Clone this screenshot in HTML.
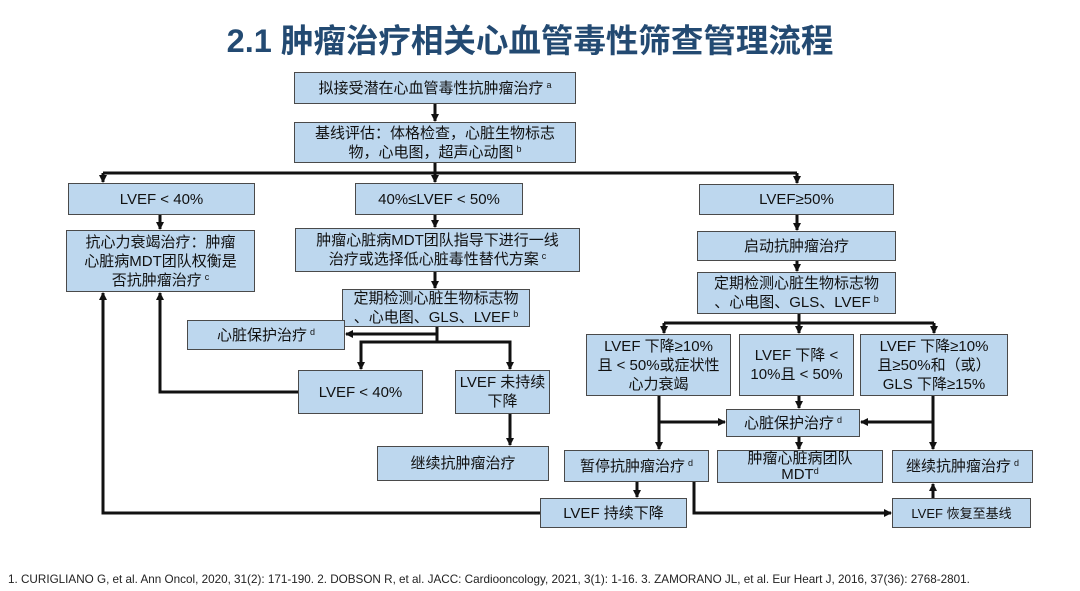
<!DOCTYPE html>
<html><head><meta charset="utf-8"><style>
body{margin:0;width:1080px;height:591px;background:#fff;position:relative;overflow:hidden;font-family:"Liberation Sans","Noto Sans CJK SC",sans-serif;}
.t{position:absolute;left:0;width:1060px;top:15px;text-align:center;font-size:32.5px;font-weight:bold;color:#234a72;}
.b{position:absolute;box-sizing:border-box;background:#bdd7ee;border:1.5px solid #4a4a4a;display:flex;align-items:center;justify-content:center;text-align:center;font-size:15px;line-height:19px;color:#111}
sup{font-size:9px;vertical-align:5px;margin-left:3px;line-height:0}
.f{position:absolute;left:8px;top:573px;font-size:11.7px;color:#222;white-space:nowrap}
svg{position:absolute;left:0;top:0}
</style></head><body>
<div class="t">2.1 肿瘤治疗相关心血管毒性筛查管理流程</div>
<svg width="1080" height="591">
<defs><marker id="a" markerWidth="8" markerHeight="8" refX="7" refY="4" orient="auto" markerUnits="userSpaceOnUse"><path d="M0,0 L8,4 L0,8 z" fill="#111"/></marker></defs>
<g stroke="#111" stroke-width="3" fill="none">
<line x1="435" y1="104" x2="435" y2="121" marker-end="url(#a)"/>
<line x1="435" y1="163" x2="435" y2="173"/>
<line x1="103" y1="173" x2="797" y2="173"/>
<line x1="103" y1="173" x2="103" y2="182" marker-end="url(#a)"/>
<line x1="435" y1="173" x2="435" y2="182" marker-end="url(#a)"/>
<line x1="797" y1="173" x2="797" y2="183" marker-end="url(#a)"/>
<line x1="160" y1="215" x2="160" y2="229" marker-end="url(#a)"/>
<line x1="435" y1="215" x2="435" y2="227" marker-end="url(#a)"/>
<line x1="435" y1="272" x2="435" y2="288" marker-end="url(#a)"/>
<line x1="437" y1="327" x2="437" y2="342"/>
<line x1="437" y1="334" x2="346" y2="334" marker-end="url(#a)"/>
<polyline points="361,369 361,342 510,342 510,369" marker-end="url(#a)"/>
<line x1="361" y1="342" x2="361" y2="369" marker-end="url(#a)"/>
<line x1="510" y1="414" x2="510" y2="445" marker-end="url(#a)"/>
<polyline points="298,392 160,392 160,293" marker-end="url(#a)"/>
<polyline points="540,513 103,513 103,293" marker-end="url(#a)"/>
<line x1="797" y1="215" x2="797" y2="230" marker-end="url(#a)"/>
<line x1="797" y1="261" x2="797" y2="271" marker-end="url(#a)"/>
<line x1="799" y1="314" x2="799" y2="333" marker-end="url(#a)"/>
<line x1="664" y1="323" x2="934" y2="323"/>
<line x1="664" y1="323" x2="664" y2="333" marker-end="url(#a)"/>
<line x1="934" y1="323" x2="934" y2="333" marker-end="url(#a)"/>
<line x1="799" y1="396" x2="799" y2="408" marker-end="url(#a)"/>
<line x1="799" y1="437" x2="799" y2="449" marker-end="url(#a)"/>
<line x1="659" y1="396" x2="659" y2="449" marker-end="url(#a)"/>
<line x1="659" y1="422" x2="725" y2="422" marker-end="url(#a)"/>
<line x1="933" y1="396" x2="933" y2="449" marker-end="url(#a)"/>
<line x1="933" y1="422" x2="861" y2="422" marker-end="url(#a)"/>
<line x1="637" y1="482" x2="637" y2="497" marker-end="url(#a)"/>
<polyline points="694,482 694,513 891,513" marker-end="url(#a)"/>
<line x1="933" y1="498" x2="933" y2="484" marker-end="url(#a)"/>
</g></svg>
<div class="b" style="left:294px;top:72px;width:282px;height:32px"><span>拟接受潜在心血管毒性抗肿瘤治疗<sup>a</sup></span></div>
<div class="b" style="left:294px;top:122px;width:282px;height:41px"><span>基线评估：体格检查，心脏生物标志<br>物，心电图，超声心动图<sup>b</sup></span></div>
<div class="b" style="left:68px;top:183px;width:187px;height:32px"><span>LVEF &lt; 40%</span></div>
<div class="b" style="left:355px;top:183px;width:168px;height:32px"><span>40%≤LVEF &lt; 50%</span></div>
<div class="b" style="left:699px;top:184px;width:195px;height:31px"><span>LVEF≥50%</span></div>
<div class="b" style="left:66px;top:230px;width:189px;height:62px"><span>抗心力衰竭治疗：肿瘤<br>心脏病MDT团队权衡是<br>否抗肿瘤治疗<sup>c</sup></span></div>
<div class="b" style="left:295px;top:228px;width:285px;height:44px"><span>肿瘤心脏病MDT团队指导下进行一线<br>治疗或选择低心脏毒性替代方案<sup>c</sup></span></div>
<div class="b" style="left:342px;top:289px;width:188px;height:38px"><span>定期检测心脏生物标志物<br>、心电图、GLS、LVEF<sup>b</sup></span></div>
<div class="b" style="left:187px;top:320px;width:158px;height:30px"><span>心脏保护治疗<sup>d</sup></span></div>
<div class="b" style="left:298px;top:370px;width:125px;height:44px"><span>LVEF &lt; 40%</span></div>
<div class="b" style="left:455px;top:370px;width:95px;height:44px"><span>LVEF 未持续<br>下降</span></div>
<div class="b" style="left:377px;top:446px;width:172px;height:35px"><span>继续抗肿瘤治疗</span></div>
<div class="b" style="left:697px;top:231px;width:199px;height:30px"><span>启动抗肿瘤治疗</span></div>
<div class="b" style="left:697px;top:272px;width:199px;height:42px"><span>定期检测心脏生物标志物<br>、心电图、GLS、LVEF<sup>b</sup></span></div>
<div class="b" style="left:586px;top:334px;width:145px;height:62px"><span>LVEF 下降≥10%<br>且 &lt; 50%或症状性<br>心力衰竭</span></div>
<div class="b" style="left:739px;top:334px;width:115px;height:62px"><span>LVEF 下降 &lt;<br>10%且 &lt; 50%</span></div>
<div class="b" style="left:860px;top:334px;width:148px;height:62px"><span>LVEF 下降≥10%<br>且≥50%和（或）<br>GLS 下降≥15%</span></div>
<div class="b" style="left:726px;top:409px;width:134px;height:28px"><span>心脏保护治疗<sup>d</sup></span></div>
<div class="b" style="left:564px;top:450px;width:145px;height:32px"><span>暂停抗肿瘤治疗<sup>d</sup></span></div>
<div class="b" style="left:717px;top:450px;width:166px;height:33px;line-height:16px"><span>肿瘤心脏病团队<br>MDT<sup style="margin-left:0">d</sup></span></div>
<div class="b" style="left:892px;top:450px;width:141px;height:33px"><span>继续抗肿瘤治疗<sup>d</sup></span></div>
<div class="b" style="left:540px;top:498px;width:147px;height:30px"><span>LVEF 持续下降</span></div>
<div class="b" style="left:892px;top:498px;width:139px;height:30px;font-size:13px"><span>LVEF 恢复至基线</span></div>
<div class="f">1. CURIGLIANO G, et al. Ann Oncol, 2020, 31(2): 171-190. 2. DOBSON R, et al. JACC: Cardiooncology, 2021, 3(1): 1-16. 3. ZAMORANO JL, et al. Eur Heart J, 2016, 37(36): 2768-2801.</div>
</body></html>
